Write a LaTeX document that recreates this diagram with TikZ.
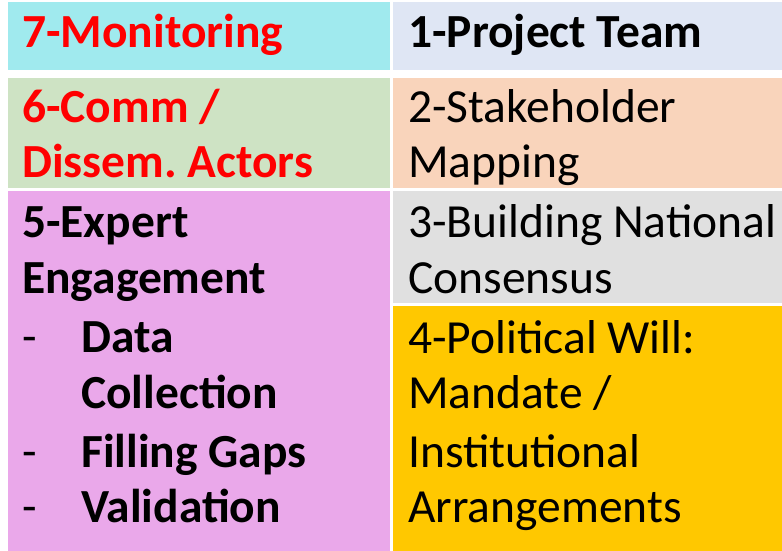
\documentclass[tikz,border=0pt]{standalone}
\usepackage{fontspec}
\setmainfont{Carlito}
\frenchspacing
\definecolor{cCyan}{HTML}{A0EAEE}
\definecolor{cBlue}{HTML}{DFE6F4}
\definecolor{cGreen}{HTML}{CEE3C4}
\definecolor{cPeach}{HTML}{F9D4BB}
\definecolor{cPink}{HTML}{EAA8EA}
\definecolor{cGrey}{HTML}{E0E0E0}
\definecolor{cYellow}{HTML}{FFC800}
\definecolor{cRed}{HTML}{FF0000}
\tikzset{
  txt/.style={anchor=base west, inner sep=0pt, font=\fontsize{47.5}{56}\selectfont\frenchspacing},
  btxt/.style={txt, font=\fontsize{47.5}{56}\selectfont\bfseries\frenchspacing},
  rtxt/.style={btxt, text=cRed},
}
\begin{document}
\begin{tikzpicture}[x=1pt,y=-1pt]
\useasboundingbox[fill=white] (0,0) rectangle (782,551);
% cells
\fill[cCyan]   (8,2)   rectangle (390,70);
\fill[cBlue]   (393,2) rectangle (782,70);
\fill[cGreen]  (8,78)  rectangle (390,188);
\fill[cPeach]  (393,78) rectangle (782,188);
\fill[cPink]   (8,191) rectangle (390,551);
\fill[cGrey]   (393,191) rectangle (782,303);
\fill[cYellow] (393,306) rectangle (782,551);
% left column texts
\node[rtxt] (t7) at (22,48) {7-Monitoring};
\node[rtxt] (t6a) at (22,122) {6-Comm /};
\node[rtxt] (t6b) at (22,177) {Dissem. Actors};
\node[btxt] (t5a) at (22,237) {5-Expert};
\node[btxt] (t5b) at (22,293) {Engagement};
\node[txt] (d1) at (22,352) {-};
\node[btxt] (t5c) at (81,352) {Data};
\node[btxt] (t5d) at (81,408) {Collection};
\node[txt] (d2) at (22,467) {-};
\node[btxt] (t5e) at (81,467) {Filling Gaps};
\node[txt] (d3) at (22,522) {-};
\node[btxt] (t5f) at (81,522) {Validation};
% right column texts
\node[btxt] (t1) at (408,48) {1-Project Team};
\node[txt] (t2a) at (408,122) {2-Stakeholder};
\node[txt] (t2b) at (408,177) {Mapping};
\node[txt] (t3a) at (408,237) {3-Building National};
\node[txt] (t3b) at (408,293) {Consensus};
\node[txt] (t4a) at (408,353) {4-Political Will:};
\node[txt] (t4b) at (408,408) {Mandate /};
\node[txt] (t4c) at (408,467) {Institutional};
\node[txt] (t4d) at (408,522) {Arrangements};
\end{tikzpicture}
\end{document}
